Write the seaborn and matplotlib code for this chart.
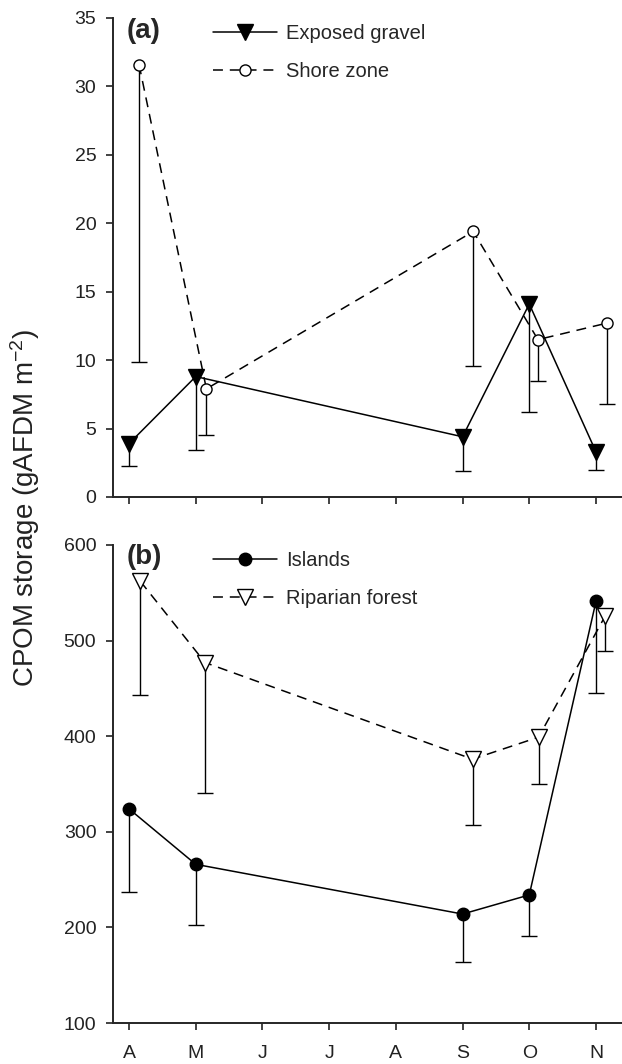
import matplotlib
matplotlib.use("Agg")
import matplotlib.pyplot as plt
import seaborn as sns
import numpy as np

sns.set_style("ticks")
plt.rcParams['font.family'] = ['Liberation Sans', 'DejaVu Sans']
plt.rcParams['mathtext.fontset'] = 'custom'
plt.rcParams['mathtext.rm'] = 'Liberation Sans'
plt.rcParams['mathtext.it'] = 'Liberation Sans:italic'
plt.rcParams['mathtext.bf'] = 'Liberation Sans:bold'

months = ["A", "M", "J", "J", "A", "S", "O", "N"]

# Panel (a)
gravel_x = [0, 1, 5, 6, 7]
gravel_y = [3.9, 8.8, 4.4, 14.1, 3.3]
gravel_lo = [2.3, 3.4, 1.9, 6.2, 2.0]

shore_x = [0.15, 1.16, 5.16, 6.13, 7.16]
shore_y = [31.6, 7.9, 19.4, 11.5, 12.7]
shore_lo = [9.9, 4.55, 9.6, 8.45, 6.8]

# Panel (b)
islands_x = [0, 1, 5, 6, 7]
islands_y = [324, 266, 214, 234, 541]
islands_lo = [237, 203, 164, 191, 445]

riparian_x = [0.17, 1.14, 5.15, 6.14, 7.14]
riparian_y = [562, 477, 376, 399, 526]
riparian_lo = [443, 341, 307, 350, 489]

fig = plt.figure(figsize=(6.22, 10.64), dpi=100)
ax1 = fig.add_axes([0.1817, 0.5329, 0.8183, 0.4502])
ax2 = fig.add_axes([0.1817, 0.0385, 0.8183, 0.4493])

dash = (0, (6.5, 4.5))


def errbars(ax, x, y, lo):
    y = np.asarray(y, float)
    lo = np.asarray(lo, float)
    cont = ax.errorbar(x, y, yerr=[y - lo, np.zeros_like(y)], fmt='none',
                       ecolor='black', elinewidth=1.0, capsize=5.5,
                       capthick=1.0, zorder=2)
    cont.lines[1][1].set_visible(False)


def series(ax, x, y, lo, marker, ms, face, ls, label):
    errbars(ax, x, y, lo)
    sns.lineplot(x=x, y=y, ax=ax, color='black', marker=marker,
                 markersize=ms, markerfacecolor=face, markeredgecolor='black',
                 markeredgewidth=1.0, linewidth=1.1, linestyle=ls,
                 label=label, zorder=3)


series(ax1, gravel_x, gravel_y, gravel_lo, 'v', 11.5, 'black', '-', 'Exposed gravel')
series(ax1, shore_x, shore_y, shore_lo, 'o', 8, 'white', dash, 'Shore zone')
series(ax2, islands_x, islands_y, islands_lo, 'o', 9, 'black', '-', 'Islands')
series(ax2, riparian_x, riparian_y, riparian_lo, 'v', 11, 'white', dash, 'Riparian forest')

for ax in (ax1, ax2):
    ax.set_xlim(-0.24, 7.39)
    ax.set_xticks(range(len(months)))
    sns.despine(ax=ax)
    for s in ('left', 'bottom'):
        ax.spines[s].set_linewidth(1.4)
    ax.tick_params(axis='both', direction='out', length=5, width=1.2,
                   labelsize=14, colors='#222222')
    ax.tick_params(axis='y', pad=7)
    ax.tick_params(axis='x', pad=11)
    ax.set_xlabel('')
    ax.set_ylabel('')
    ax.legend(loc='upper left', bbox_to_anchor=(0.196, 0.988), frameon=False,
              fontsize=14.5, handlelength=3.2, handletextpad=0.45,
              labelspacing=0.95, borderpad=0, borderaxespad=0)

ax1.set_ylim(0, 35)
ax1.set_yticks(range(0, 36, 5))
ax1.set_xticklabels([])
ax2.set_ylim(100, 600)
ax2.set_yticks(range(100, 601, 100))
ax2.set_xticklabels(months)

ax1.text(0.027, 0.972, '(a)', transform=ax1.transAxes, fontsize=20,
         fontweight='bold', va='center', ha='left')
ax2.text(0.027, 0.975, '(b)', transform=ax2.transAxes, fontsize=20,
         fontweight='bold', va='center', ha='left')

fig.text(0.04, 0.523, 'CPOM storage (gAFDM m$^{\\mathrm{-2}}$)', rotation=90,
         fontsize=20, va='center', ha='center', color='#222222')

fig.savefig('out.png', dpi=100)
